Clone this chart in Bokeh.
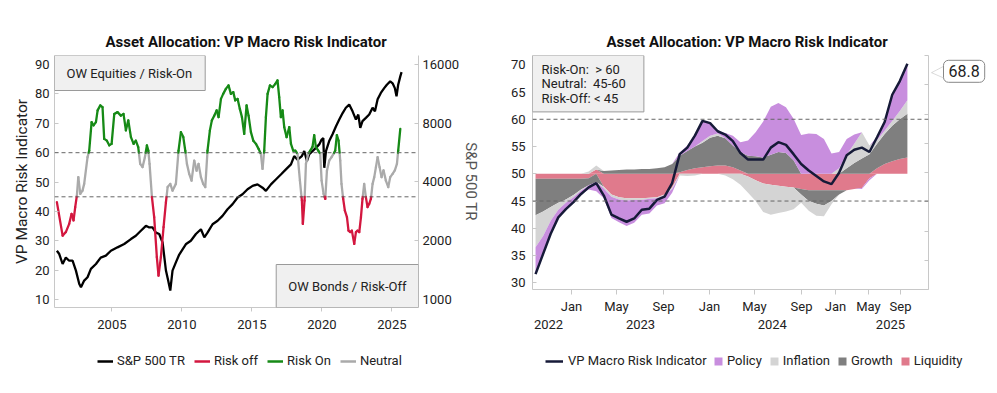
import numpy as np
from bokeh.plotting import figure
from bokeh.layouts import row, column
from bokeh.models import (Range1d, LinearAxis, LogAxis, LogScale, FixedTicker, Span, Label,
                          Legend, LegendItem, PolyAnnotation, NumeralTickFormatter)
from bokeh.embed import file_html
from bokeh.resources import INLINE

FONT = "Roboto"
TITLE = "Asset Allocation: VP Macro Risk Indicator"

# ---------------- Left chart data ----------------
ind_year = [2001.07, 2001.48, 2001.71, 2001.95, 2002.12, 2002.26, 2002.38, 2002.5, 2002.6, 2002.74,
            2002.9, 2003.02, 2003.26, 2003.38, 2003.55, 2003.69, 2003.86, 2003.98, 2004.17, 2004.33,
            2004.45, 2004.64, 2004.81, 2004.98, 2005.17, 2005.40, 2005.64, 2005.83, 2006.0, 2006.17,
            2006.36, 2006.55, 2006.71, 2006.88, 2007.02, 2007.19, 2007.36, 2007.5, 2007.6, 2007.69,
            2007.86, 2008.02, 2008.21, 2008.33, 2008.5, 2008.69, 2008.86, 2008.98, 2009.17, 2009.33,
            2009.57, 2009.76, 2009.93, 2010.1, 2010.24, 2010.36, 2010.52, 2010.69, 2010.88, 2011.05,
            2011.19, 2011.36, 2011.52, 2011.67, 2011.83, 2012.0, 2012.14, 2012.31, 2012.48, 2012.62,
            2012.79, 2012.95, 2013.14, 2013.33, 2013.5, 2013.67, 2013.81, 2013.98, 2014.14, 2014.29,
            2014.45, 2014.62, 2014.76, 2014.93, 2015.1, 2015.29, 2015.48, 2015.64, 2015.76, 2015.88,
            2016.0, 2016.12, 2016.29, 2016.48, 2016.67, 2016.83, 2016.95, 2017.07, 2017.19, 2017.31,
            2017.48, 2017.67, 2017.79, 2017.95, 2018.1, 2018.26, 2018.43, 2018.57, 2018.64, 2018.76,
            2018.86, 2019.02, 2019.17, 2019.33, 2019.45, 2019.57, 2019.74, 2019.88, 2019.98, 2020.12,
            2020.24, 2020.36, 2020.52, 2020.69, 2020.83, 2020.95, 2021.07, 2021.19, 2021.31, 2021.4,
            2021.52, 2021.64, 2021.79, 2021.9, 2022.02, 2022.14, 2022.31, 2022.43, 2022.55, 2022.67,
            2022.79, 2022.9, 2023.02, 2023.14, 2023.26, 2023.38, 2023.5, 2023.62, 2023.74, 2023.86,
            2023.98, 2024.12, 2024.26, 2024.4, 2024.57, 2024.74, 2024.88, 2025.05, 2025.21, 2025.36,
            2025.45, 2025.6]
ind_val = [43.2, 31.8, 33.0, 35.8, 39.2, 37.0, 41.5, 45.5, 51.7, 46.0,
           47.1, 49.4, 58.5, 60.7, 70.4, 69.3, 70.4, 74.4, 76.1, 75.5,
           64.7, 64.1, 62.5, 63.0, 73.2, 73.8, 72.6, 73.2, 67.6, 71.0,
           65.3, 63.0, 64.1, 61.9, 56.2, 55.1, 58.5, 62.5, 60.7, 56.2,
           44.9, 38.1, 24.5, 18.2, 24.5, 34.7, 43.2, 48.3, 49.4, 47.1,
           49.4, 60.7, 67.0, 65.3, 60.7, 56.2, 52.8, 50.5, 57.3, 53.9,
           56.2, 51.7, 49.4, 48.3, 60.7, 67.6, 71.0, 72.6, 74.4, 72.1,
           78.3, 80.0, 81.7, 82.9, 80.0, 80.6, 77.8, 78.3, 74.9, 72.1,
           66.4, 76.1, 72.6, 67.0, 64.1, 63.0, 61.3, 59.6, 54.5, 60.7,
           72.1, 80.0, 82.9, 82.3, 83.4, 84.6, 78.9, 72.1, 74.4, 68.7,
           65.3, 68.7, 63.0, 60.7, 60.7, 59.6, 50.5, 43.7, 35.8, 43.7,
           56.2, 59.6, 60.7, 62.0, 66.0, 62.0, 60.7, 59.6, 50.5, 46.0,
           44.3, 53.9, 57.3, 58.5, 59.6, 60.7, 66.0, 64.1, 57.3, 49.4,
           44.3, 40.3, 38.1, 33.5, 33.0, 33.5, 29.0, 33.0, 33.5, 33.0,
           38.1, 44.3, 49.4, 44.9, 41.5, 42.6, 44.3, 49.4, 51.7, 55.1,
           58.5, 55.1, 51.7, 54.0, 50.5, 48.3, 51.7, 52.8, 54.0, 56.2,
           60.7, 68.1]

spx_year = [2001.07, 2001.24, 2001.48, 2001.71, 2001.95, 2002.19, 2002.43, 2002.67, 2002.79, 2003.02,
            2003.26, 2003.5, 2003.86, 2004.2, 2004.57, 2004.93, 2005.4, 2005.88, 2006.36, 2006.71,
            2007.07, 2007.43, 2007.67, 2007.9, 2008.14, 2008.38, 2008.62, 2008.86, 2009.02, 2009.17,
            2009.33, 2009.57, 2009.81, 2010.3, 2010.64, 2011.0, 2011.36, 2011.6, 2011.83, 2012.19,
            2012.55, 2012.9, 2013.26, 2013.62, 2013.98, 2014.33, 2014.69, 2015.05, 2015.4, 2015.76,
            2016.0, 2016.36, 2016.71, 2017.07, 2017.43, 2017.79, 2018.02, 2018.26, 2018.57, 2018.74,
            2018.93, 2019.1, 2019.33, 2019.57, 2019.81, 2019.98, 2020.1, 2020.17, 2020.29, 2020.52,
            2020.76, 2021.0, 2021.24, 2021.48, 2021.71, 2021.95, 2022.19, 2022.43, 2022.6, 2022.74,
            2022.9, 2023.14, 2023.38, 2023.62, 2023.79, 2023.98, 2024.21, 2024.45, 2024.64, 2024.88,
            2025.05, 2025.21, 2025.33, 2025.45, 2025.6, 2025.69]
spx_val = [1778, 1710, 1520, 1640, 1580, 1580, 1406, 1200, 1155, 1250,
           1300, 1434, 1520, 1640, 1677, 1778, 1850, 1925, 2040, 2120,
           2250, 2385, 2340, 2340, 2200, 2165, 1960, 1406, 1250, 1111,
           1406, 1550, 1700, 1925, 2000, 2165, 2290, 2080, 2200, 2430,
           2530, 2680, 2900, 3080, 3330, 3460, 3670, 3820, 3890, 3740,
           3600, 3890, 4120, 4370, 4640, 4920, 5430, 5200, 5430, 5760,
           5120, 5550, 5760, 5980, 6230, 6600, 6710, 4730, 5760, 6480,
           7030, 7700, 8350, 9020, 9600, 9970, 9200, 8350, 8860, 7580,
           8200, 8520, 8860, 9600, 9200, 10600, 11430, 12100, 12600, 13100,
           12800, 12100, 11000, 12600, 13900, 14600]

left_xticks = [2005, 2010, 2015, 2020, 2025]
left_yticks = [10, 20, 30, 40, 50, 60, 70, 80, 90]
spx_ticks = [1000, 2000, 4000, 8000, 16000]
RISK_OFF, RISK_ON = 45, 60

# ---------------- Right chart data ----------------
vp_line = [31.6, 35.3, 39.0, 42.0, 43.5, 44.8, 46.3, 47.5, 48.3, 46.0,
           42.5, 41.8, 41.2, 41.8, 43.4, 43.6, 45.2, 45.8, 48.3, 53.6,
           54.8, 57.0, 59.7, 59.3, 57.8, 57.2, 56.0, 53.8, 52.6, 52.6,
           52.6, 54.8, 55.8, 55.3, 53.6, 51.8, 50.6, 49.6, 48.6, 48.1,
           50.2, 53.4, 54.4, 54.8, 54.0, 56.7, 59.5, 64.5, 67.0, 70.2]
liquidity = [-0.9, -0.9, -0.9, -0.9, -0.9, -0.9, -0.9, -0.8, 0.8, -2.4,
             -3.8, -4.3, -4.5, -4.5, -4.5, -4.4, -4.3, -3.8, -2.5, 0.3,
             0.7, 1.0, 1.2, 1.4, 1.5, 1.5, 1.2, 0.6, -0.5, -1.2,
             -1.8, -2.0, -2.2, -2.4, -2.5, -2.8, -3.0, -3.0, -3.0, -3.0,
             -3.0, -3.0, -2.8, -2.6, -0.8, 1.0, 1.8, 2.3, 2.7, 3.0]
growth = [-6.7, -6.0, -5.2, -4.4, -3.8, -3.0, -2.0, -1.3, -1.5, 0.5,
          0.6, 0.7, 0.8, 0.8, 0.9, 0.9, 1.0, 1.2, 1.8, 3.0,
          3.5, 4.0, 4.5, 5.2, 5.5, 5.0, 4.0, 3.4, 3.3, 3.2,
          3.0, 3.5, 4.0, 3.8, 2.5, -1.0, -2.0, -2.5, -2.8, -2.0,
          -0.8, 1.0, 2.0, 2.8, 3.6, 4.5, 5.5, 6.5, 7.3, 8.0]
inflation = [-5.9, -4.5, -2.5, -1.3, -0.6, -0.4, -0.2, 0.4, 0.7, -0.3,
             -0.4, -0.4, -0.4, -0.3, -0.3, -0.2, -0.2, -0.2, -0.3, -0.3,
             -0.4, -0.3, 0.3, 0.4, 0.4, -0.3, -1.0, -2.0, -3.0, -3.8,
             -5.2, -5.5, -5.0, -4.5, -4.0, -1.5, -1.8, -2.2, -2.0, -0.6,
             1.0, 2.5, 3.5, 4.8, 1.6, 0.7, 0.6, 0.9, 1.5, 2.5]
policy = [-4.9, -3.3, -2.4, -1.4, -1.2, -0.9, -0.6, -0.8, -1.7, -1.8,
          -3.9, -4.2, -4.7, -4.2, -2.7, -2.7, -1.3, -1.4, -0.7, 0.6,
          1.0, 2.3, 3.7, 2.3, 0.4, 1.0, 1.8, 1.8, 2.8, 4.4,
          6.6, 8.8, 9.0, 8.4, 7.6, 7.1, 7.4, 7.3, 6.4, 3.7,
          3.0, 2.9, 1.7, -0.2, -0.4, 0.5, 1.6, 4.8, 5.5, 6.7]
month_tick_pos = [4.74, 10.67, 16.86, 22.92, 28.85, 35.05, 39.53, 43.87, 48.09]
month_tick_lab = ["Jan", "May", "Sep", "Jan", "May", "Sep", "Jan", "May", "Sep"]
year_tick_pos = [1.71, 13.83, 31.2, 46.77]
year_tick_lab = ["2022", "2023", "2024", "2025"]
right_yticks = [30, 35, 40, 45, 50, 55, 60, 65, 70]
latest_value = 68.8

AXIS_GRAY = "#c8c8c8"
COL_SPX, COL_OFF, COL_ON, COL_NEU = "black", "#d3173f", "#168a16", "#aaaaaa"
COL_VP = "#161a38"
COL_LIQ, COL_GRO, COL_INF, COL_POL = "#e07a8c", "#7f7f7f", "#d4d4d4", "#c88ede"


def style_axis(ax, size="13px"):
    ax.major_label_text_font = FONT
    ax.major_label_text_font_size = size
    ax.major_label_text_color = "#222222"
    ax.axis_label_text_font = FONT
    ax.axis_label_text_font_style = "normal"
    ax.axis_line_color = AXIS_GRAY
    ax.major_tick_line_color = AXIS_GRAY
    ax.minor_tick_line_color = None


def split_segments(xv, yv, lo, hi):
    out = {k: [[], [], [], []] for k in ("off", "on", "neu")}
    for i in range(len(xv) - 1):
        x0, y0, x1, y1 = xv[i], yv[i], xv[i + 1], yv[i + 1]
        ts = [0.0, 1.0]
        for th in (lo, hi):
            if (y0 - th) * (y1 - th) < 0:
                ts.append((th - y0) / (y1 - y0))
        ts.sort()
        for a, b in zip(ts[:-1], ts[1:]):
            xa, ya = x0 + a * (x1 - x0), y0 + a * (y1 - y0)
            xb, yb = x0 + b * (x1 - x0), y0 + b * (y1 - y0)
            m = (ya + yb) / 2
            k = "off" if m < lo else ("on" if m > hi else "neu")
            for lst, val in zip(out[k], (xa, ya, xb, yb)):
                lst.append(val)
    return out


def style_title(p, offset):
    p.title.text = TITLE
    p.title.align = "left"
    p.title.offset = offset
    p.title.text_font = FONT
    p.title.text_font_size = "15px"
    p.title.text_font_style = "bold"
    p.title.text_color = "#111111"


def blank_fig(width, height, **kw):
    f = figure(width=width, height=height, output_backend="svg", toolbar_location=None,
               x_axis_type=None, y_axis_type=None, min_border=0, **kw)
    f.outline_line_color = None
    f.grid.grid_line_color = None
    return f


def make_legend(items, gw, gh, spacing, standoff, location="center"):
    return Legend(items=items, orientation="horizontal", location=location,
                  border_line_color=None, background_fill_alpha=0,
                  label_text_font=FONT, label_text_font_size="13px", label_text_color="#222222",
                  glyph_width=gw, glyph_height=gh, label_standoff=standoff, spacing=spacing,
                  padding=0, margin=0)


# ================= LEFT FIGURE =================
p1 = figure(frame_width=364, frame_height=252, output_backend="svg", toolbar_location=None,
            x_range=Range1d(2000.9, 2026.9), y_range=Range1d(7.35, 93.06),
            min_border_left=54, min_border_right=80, min_border_top=55, min_border_bottom=33)
p1.outline_line_color = None
p1.grid.grid_line_color = None
style_title(p1, 51)

p1.xaxis.ticker = FixedTicker(ticks=left_xticks)
p1.xaxis.formatter = NumeralTickFormatter(format="0")
style_axis(p1.xaxis[0])
p1.xaxis.major_tick_in = 0
p1.xaxis.major_tick_out = 4
p1.xaxis.major_label_standoff = 8

p1.yaxis.ticker = FixedTicker(ticks=left_yticks)
style_axis(p1.yaxis[0])
p1.yaxis.axis_label = "VP Macro Risk Indicator"
p1.yaxis.axis_label_text_font_size = "15.5px"
p1.yaxis.axis_label_text_color = "#222222"
p1.yaxis.axis_label_standoff = 1
p1.yaxis.major_tick_in = 4
p1.yaxis.major_tick_out = 0
p1.yaxis.major_label_standoff = 5

p1.extra_y_ranges = {"spx": Range1d(910, 17780)}
p1.extra_y_scales = {"spx": LogScale()}
ax_spx = LogAxis(y_range_name="spx", ticker=FixedTicker(ticks=spx_ticks),
                 formatter=NumeralTickFormatter(format="0"), axis_label="S&P 500 TR")
style_axis(ax_spx)
ax_spx.axis_label_text_font_size = "15px"
ax_spx.axis_label_text_color = "#555555"
ax_spx.axis_label_standoff = 0
ax_spx.major_tick_in = 4
ax_spx.major_tick_out = 0
ax_spx.major_label_standoff = 4
p1.add_layout(ax_spx, "right")

for lvl in (RISK_OFF, RISK_ON):
    p1.add_layout(Span(location=lvl, dimension="width", line_color="#666666",
                       line_width=1, line_dash="4 3"))

p1.line(spx_year, spx_val, y_range_name="spx", line_color=COL_SPX, line_width=2.3)
segs = split_segments(ind_year, ind_val, RISK_OFF, RISK_ON)
seg_colors = {"off": COL_OFF, "on": COL_ON, "neu": COL_NEU}
for k in ("neu", "off", "on"):
    x0, y0, x1, y1 = segs[k]
    p1.segment(x0=x0, y0=y0, x1=x1, y1=y1, line_color=seg_colors[k],
               line_width=2.3, line_cap="round")

box_style = dict(text_font=FONT, text_font_size="13px", text_color="#222222",
                 background_fill_color="#f0f0f0", border_line_color="#9a9a9a")
p1.add_layout(Label(x=2000.9, y=93.06, text="OW Equities / Risk-On", anchor="top_left",
                    padding=dict(left=12, right=13, top=10, bottom=10), **box_style))
p1.add_layout(Label(x=2026.9, y=7.35, text="OW Bonds / Risk-Off", anchor="bottom_right",
                    padding=dict(left=12, right=12, top=14, bottom=14), **box_style))

# left legend (own strip; its frame is aligned with the chart frame above it)
leg1_fig = blank_fig(498, 40, x_range=Range1d(0, 1), y_range=Range1d(0, 1))
hx, hy = [-10, -9], [-10, -10]
d_spx = leg1_fig.line(x=hx, y=hy, line_color=COL_SPX, line_width=2.5)
d_off = leg1_fig.line(x=hx, y=hy, line_color=COL_OFF, line_width=2.5)
d_on = leg1_fig.line(x=hx, y=hy, line_color=COL_ON, line_width=2.5)
d_neu = leg1_fig.line(x=hx, y=hy, line_color=COL_NEU, line_width=2.5)
leg1_fig.add_layout(make_legend([LegendItem(label="S&P 500 TR", renderers=[d_spx]),
                                 LegendItem(label="Risk off", renderers=[d_off]),
                                 LegendItem(label="Risk On", renderers=[d_on]),
                                 LegendItem(label="Neutral", renderers=[d_neu])],
                                gw=16, gh=14, spacing=9, standoff=4, location=(43, 12)), "center")

# ================= RIGHT FIGURE =================
n_obs = len(vp_line)
xs = np.arange(n_obs)
y2_range = Range1d(28.77, 71.7)
p2 = figure(frame_width=396, frame_height=234, output_backend="svg", toolbar_location=None,
            x_range=Range1d(-0.4, 51.78), y_range=y2_range,
            min_border_left=34, min_border_right=2, min_border_top=55, min_border_bottom=51)
p2.outline_line_color = None
p2.grid.grid_line_color = None
style_title(p2, 74)

p2.xaxis.ticker = FixedTicker(ticks=month_tick_pos)
p2.xaxis.major_label_overrides = {pos: lab for pos, lab in zip(month_tick_pos, month_tick_lab)}
style_axis(p2.xaxis[0])
p2.xaxis.major_tick_in = 0
p2.xaxis.major_tick_out = 5
p2.xaxis.major_label_standoff = 4

ax_year = LinearAxis(ticker=FixedTicker(ticks=year_tick_pos),
                     major_label_overrides={pos: lab for pos, lab in zip(year_tick_pos, year_tick_lab)})
style_axis(ax_year)
ax_year.axis_line_color = None
ax_year.major_tick_line_color = None
ax_year.major_tick_in = 0
ax_year.major_tick_out = 0
ax_year.major_label_standoff = 3
p2.add_layout(ax_year, "below")

p2.yaxis.ticker = FixedTicker(ticks=right_yticks)
style_axis(p2.yaxis[0])
p2.yaxis.major_tick_in = 4
p2.yaxis.major_tick_out = 0
p2.yaxis.major_label_standoff = 7

aux_ticks = [0, 1, 2, 3, 4, 5, 6, 7, 8]
p2.extra_y_ranges = {"aux": Range1d(0, 8)}
ax_aux = LinearAxis(y_range_name="aux", ticker=FixedTicker(ticks=aux_ticks),
                    major_label_overrides={t: "" for t in aux_ticks})
style_axis(ax_aux)
ax_aux.major_tick_in = 4
ax_aux.major_tick_out = 0
ax_aux.major_label_standoff = 0
p2.add_layout(ax_aux, "right")

comps = [("Liquidity", liquidity, COL_LIQ), ("Growth", growth, COL_GRO),
         ("Inflation", inflation, COL_INF), ("Policy", policy, COL_POL)]
pos_base = np.full(n_obs, 50.0)
neg_base = np.full(n_obs, 50.0)
for name, vals, col in comps:
    v = np.array(vals, dtype=float)
    pos = np.clip(v, 0, None)
    neg = np.clip(v, None, 0)
    p2.varea(x=xs, y1=pos_base.copy(), y2=pos_base + pos, fill_color=col)
    p2.varea(x=xs, y1=neg_base + neg, y2=neg_base.copy(), fill_color=col)
    pos_base = pos_base + pos
    neg_base = neg_base + neg

for lvl in (RISK_OFF, RISK_ON):
    p2.add_layout(Span(location=lvl, dimension="width", line_color="#666666",
                       line_width=1, line_dash="4 3"))

p2.line(xs, vp_line, line_color=COL_VP, line_width=2.5)

p2.add_layout(Label(x=-0.4, y=71.7, anchor="top_left",
                    text="Risk-On: \u00a0> 60\nNeutral: \u00a045-60\nRisk-Off: < 45",
                    text_font=FONT, text_font_size="13px", text_color="#222222",
                    text_line_height=0.98,
                    background_fill_color="#f0f0f0", border_line_color="#9a9a9a",
                    padding=dict(left=9, right=18, top=6, bottom=6)))

# callout strip to the right of the plot (shares the y range)
call_fig = figure(frame_width=58, frame_height=234, output_backend="svg", toolbar_location=None,
                  x_axis_type=None, y_axis_type=None, x_range=Range1d(0, 58), y_range=y2_range,
                  min_border_left=0, min_border_right=0, min_border_top=55, min_border_bottom=0)
call_fig.outline_line_color = None
call_fig.grid.grid_line_color = None
call_fig.add_layout(PolyAnnotation(xs=[14, 1, 14], ys=[latest_value + 1.0, latest_value - 0.25, latest_value - 1.3],
                                   fill_color="white", fill_alpha=1, line_color="#888888", line_width=1))
call_fig.add_layout(Label(x=13, y=latest_value, text=f"{latest_value}",
                          anchor="center_left", text_font=FONT, text_font_size="16px", text_color="#222222",
                          background_fill_color="white", border_line_color="#888888", border_radius=5,
                          padding=dict(left=5, right=5, top=5, bottom=5)))

# right legend (own strip): line item and square items as two adjacent legends
leg2_fig = blank_fig(492, 40, x_range=Range1d(0, 1), y_range=Range1d(0, 1))
d_vp = leg2_fig.line(x=hx, y=hy, line_color=COL_VP, line_width=2.5)
d_pol = leg2_fig.varea(x=hx, y1=hy, y2=hy, fill_color=COL_POL)
d_inf = leg2_fig.varea(x=hx, y1=hy, y2=hy, fill_color=COL_INF)
d_gro = leg2_fig.varea(x=hx, y1=hy, y2=hy, fill_color=COL_GRO)
d_liq = leg2_fig.varea(x=hx, y1=hy, y2=hy, fill_color=COL_LIQ)
leg2_fig.add_layout(make_legend([LegendItem(label="VP Macro Risk Indicator", renderers=[d_vp])],
                                gw=18, gh=14, spacing=7, standoff=5, location=(47, 12)), "center")
leg2_fig.add_layout(make_legend([LegendItem(label="Policy", renderers=[d_pol]),
                                 LegendItem(label="Inflation", renderers=[d_inf]),
                                 LegendItem(label="Growth", renderers=[d_gro]),
                                 LegendItem(label="Liquidity", renderers=[d_liq])],
                                gw=10, gh=10, spacing=7, standoff=4, location=(215, 12)), "center")

layout = row(column(p1, leg1_fig), column(row(p2, call_fig), leg2_fig))
open("out.html", "w").write(file_html(layout, INLINE))
